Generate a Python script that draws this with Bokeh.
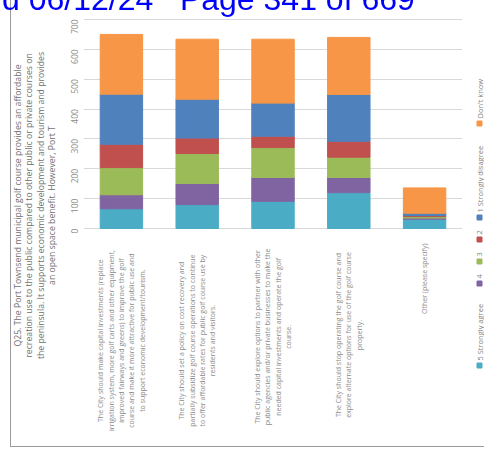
import math
from bokeh.plotting import figure
from bokeh.models import ColumnDataSource, FactorRange, Range1d, FixedTicker, Div
from bokeh.layouts import row, column
from bokeh.embed import file_html
from bokeh.resources import INLINE
from bokeh.core.properties import value

# ---------------- data ----------------
category_lines = [
    ["The City should make capital investments (replace",
     "irrigation system, more golf carts and other equipment,",
     "improved fairways and greens) to improve the golf",
     "course and make it more attractive for public use and",
     "to support economic development/tourism."],
    ["The City should set a policy on cost recovery and",
     "partially subsidize golf course operations to continue",
     "to offer affordable rates for public golf course use by",
     "residents and visitors."],
    ["The City should explore options to partner with other",
     "public agencies and/or private businesses to make the",
     "needed capital investments and operate the golf",
     "course."],
    ["The City should stop operating the golf course and",
     "explore alternate options for use of the golf course",
     "property."],
    ["Other (please specify)"],
]
categories = [" ".join(lines) for lines in category_lines]

series_names = ["5 Strongly agree", "4", "3", "2", "1 Strongly disagree", "Don't know"]
strongly_agree = [66, 80, 91, 120, 31]
agree = [47, 71, 80, 51, 4]
neutral = [91, 100, 100, 68, 5]
disagree = [78, 52, 38, 53, 3]
strongly_disagree = [168, 130, 111, 157, 8]
dont_know = [200, 201, 214, 191, 85]

y_ticks = [0, 100, 200, 300, 400, 500, 600, 700]

title_lines = [
    "Q25. The Port Townsend municipal golf course provides an affordable",
    "recreation use to the public compared to other public or private courses on",
    "the peninsula. It supports economic development and tourism and provides",
    "an open space benefit. However, Port T",
]
header_text = "d 06/12/24   Page 341 of 669"

# ---------------- styles / layout (screen pixels) ----------------
colors = ["#4bacc6", "#8064a2", "#9bbb59", "#c0504d", "#4f81bd", "#f79646"]
FONT = "Open Sans"

BORDER_X = 10          # left frame line of the page image
LEFT0 = BORDER_X + 1   # first content pixel
TITLE_R = 64           # right edge of the title panel
FRAME_L = 78           # plot area left
FRAME_R = 462          # plot area right
RIGHT_EDGE = 484
BOTTOM = 446           # bottom frame line
ZERO_SY = 228          # screen y of value 0
TOP_TICK_SY = 19       # screen y of top tick

PX_PER_UNIT_Y = (ZERO_SY - TOP_TICK_SY) / y_ticks[-1]
Y_END = y_ticks[-1] + TOP_TICK_SY / PX_PER_UNIT_Y
Y_START = -(BOTTOM - ZERO_SY) / PX_PER_UNIT_Y


def sy_to_y(sy):
    return (ZERO_SY - sy) / PX_PER_UNIT_Y


# ---- title panel ----
tp = figure(width=TITLE_R - LEFT0, height=BOTTOM, x_range=Range1d(LEFT0, TITLE_R),
            y_range=Range1d(BOTTOM, 0), x_axis_location=None, y_axis_location=None,
            output_backend="svg", toolbar_location=None, title=None, min_border=0)
tp.outline_line_color = None
tp.xgrid.grid_line_color = None
tp.ygrid.grid_line_color = None
tp.text(x=[34.5], y=[205], text=["\n".join(title_lines)], angle=math.pi / 2,
        text_align="center", text_baseline="middle", text_font=value(FONT),
        text_font_size="8.7px", text_line_height=0.96, text_color="#6e6e6e")

# ---- main chart ----
p = figure(width=FRAME_R - TITLE_R, height=BOTTOM,
           x_range=FactorRange(factors=categories),
           y_range=Range1d(Y_START, Y_END),
           x_axis_location=None,
           output_backend="svg", toolbar_location=None, title=None,
           min_border_left=FRAME_L - TITLE_R, min_border_right=0,
           min_border_top=0, min_border_bottom=0)
p.outline_line_color = None

source = ColumnDataSource(dict(cat=categories, s5=strongly_agree, s4=agree, s3=neutral,
                               s2=disagree, s1=strongly_disagree, dk=dont_know))
p.vbar_stack(["s5", "s4", "s3", "s2", "s1", "dk"], x="cat", width=0.56,
             color=colors, source=source)

p.yaxis.ticker = FixedTicker(ticks=y_ticks)
p.yaxis.major_label_orientation = math.pi / 2
p.yaxis.axis_line_color = None
p.yaxis.major_tick_line_color = None
p.yaxis.minor_tick_line_color = None
p.yaxis.major_label_standoff = 3
p.yaxis.major_label_text_font = FONT
p.yaxis.major_label_text_font_size = "8.5px"
p.yaxis.major_label_text_color = "#8c8c8c"
p.ygrid.grid_line_color = "#d9d9d9"
p.xgrid.grid_line_color = None

# category labels: rotated blocks starting just below the axis, lines centred
CAT_TOP_SY = 237
CAT_CHAR_W = 3.75
cat_y = [sy_to_y(CAT_TOP_SY + max(len(s) for s in lines) * CAT_CHAR_W / 2)
         for lines in category_lines]
p.text(x=categories, y=cat_y, text=["\n".join(lines) for lines in category_lines],
       angle=math.pi / 2, text_align="center", text_baseline="middle",
       text_font=value(FONT), text_font_size="7px", text_line_height=1.15,
       text_color="#8a8a8a")

# ---- legend panel ----
lg = figure(width=RIGHT_EDGE - FRAME_R, height=BOTTOM, x_range=Range1d(FRAME_R, RIGHT_EDGE),
            y_range=Range1d(BOTTOM, 0), x_axis_location=None, y_axis_location=None,
            output_backend="svg", toolbar_location=None, title=None, min_border=0)
lg.outline_line_color = None
lg.xgrid.grid_line_color = None
lg.ygrid.grid_line_color = None

LEG_X = 479
LEG_CHAR_W = 4.0
sy = 365
sq_y, txt_y = [], []
for name in series_names:
    sq_y.append(sy)
    t = sy - 5
    txt_y.append(t)
    sy = t - len(name) * LEG_CHAR_W - 13
lg.scatter(x=[LEG_X] * len(series_names), y=sq_y, marker="square", size=5, color=colors)
lg.text(x=[LEG_X] * len(series_names), y=txt_y, text=series_names, angle=math.pi / 2,
        text_align="left", text_baseline="middle", text_font=value(FONT),
        text_font_size="7.5px", text_color="#7f7f7f")

chart = row(tp, p, lg, styles={"margin-left": f"{BORDER_X}px",
                               "border-left": "1px solid #9b9b9b",
                               "border-bottom": "1px solid #9b9b9b"})

header = Div(text=header_text,
             styles={"position": "fixed", "top": "-22px", "left": "-3px",
                     "color": "#0000ff", "font-family": "Liberation Sans, Arial",
                     "font-size": "32px", "line-height": "32px",
                     "white-space": "pre", "z-index": "10",
                     "background": "transparent"},
             stylesheets=[":host { background: transparent !important; } "
                          "div { background: transparent !important; }"])

layout = column(chart, header)

with open("out.html", "w") as f:
    f.write(file_html(layout, INLINE))
